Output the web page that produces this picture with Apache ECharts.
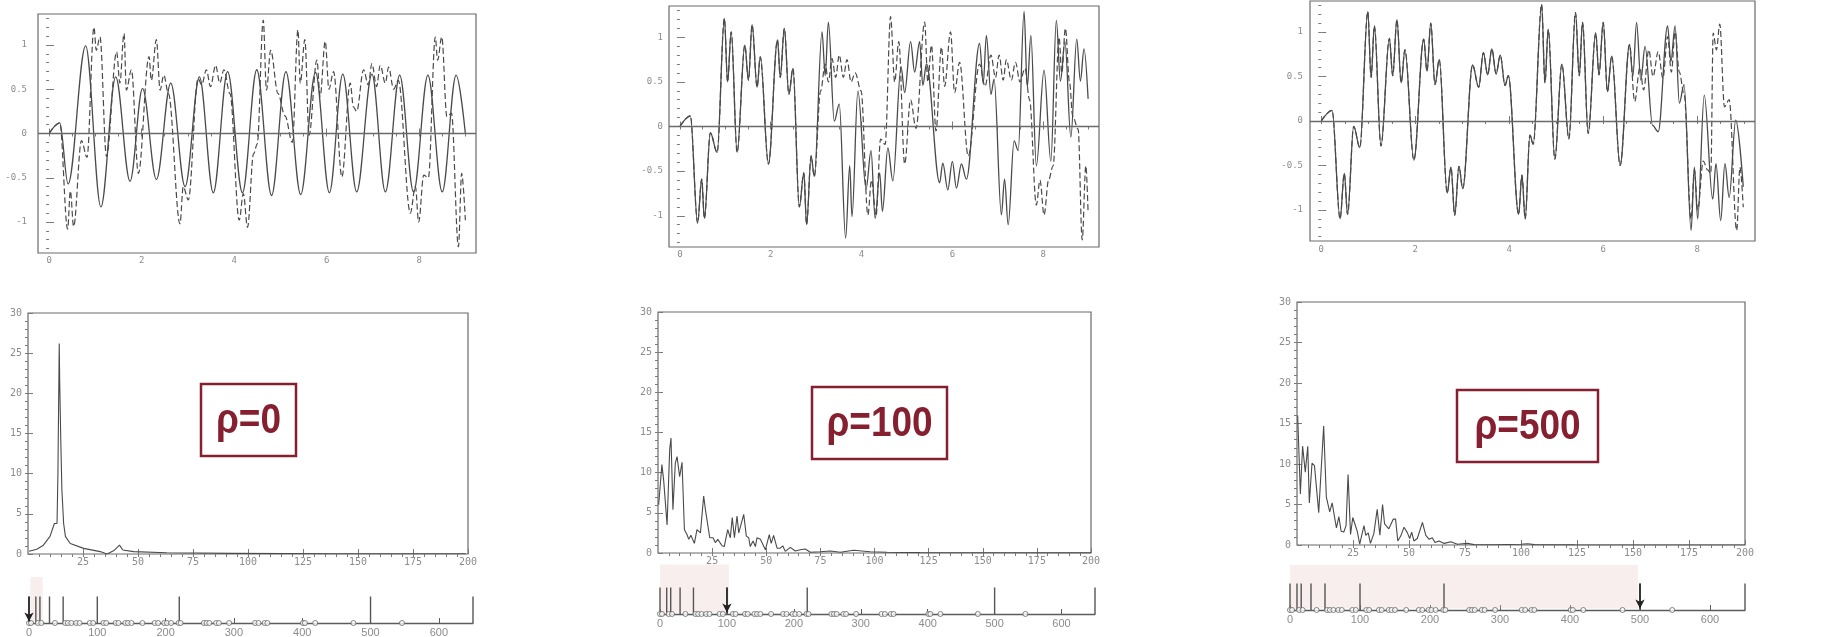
<!DOCTYPE html>
<html>
<head>
<meta charset="utf-8">
<script src="https://cdn.jsdelivr.net/npm/echarts@6/dist/echarts.min.js"></script>
<style>
  html, body { margin: 0; padding: 0; background: #fff; }
  #chart { width: 1835px; height: 637px; }
</style>
</head>
<body>
<div id="chart"></div>
<script>
// ---- data ----
const rhoValues = [0, 100, 500];

// tick labels
const tTicks = [0, 2, 4, 6, 8];
const ampTicks = [-1, -0.5, 0, 0.5, 1];
const freqTicks = [25, 50, 75, 100, 125, 150, 175, 200];
const powerTicks = [0, 5, 10, 15, 20, 25, 30];
const stripTicks = [0, 100, 200, 300, 400, 500, 600];

// time signals [t, x]; solid = model, dashed = reference
const solid0 = [[0,0],[0.23,0.12],[0.41,-0.57],[0.79,0.99],[1.12,-0.83],[1.44,0.64],[1.75,-0.54],[2.02,0.51],[2.32,-0.52],[2.63,0.57],[2.94,-0.6],[3.25,0.64],[3.55,-0.67],[3.86,0.7],[4.18,-0.67],[4.49,0.72],[4.81,-0.7],[5.12,0.7],[5.44,-0.69],[5.76,0.69],[6.06,-0.67],[6.35,0.67],[6.65,-0.66],[6.98,0.67],[7.27,-0.66],[7.58,0.66],[7.88,-0.66],[8.19,0.66],[8.5,-0.66],[8.8,0.66],[9.0,0]];
const dashed0 = [[0,0],[0.23,0.12],[0.4,-1.08],[0.46,-0.65],[0.53,-1.05],[0.7,-0.08],[0.82,-0.27],[0.97,1.2],[1.02,0.94],[1.1,1.09],[1.24,-0.26],[1.46,0.92],[1.53,0.57],[1.62,1.13],[1.67,0.49],[1.78,0.72],[1.93,-0.45],[2.16,0.87],[2.21,0.6],[2.32,1.06],[2.4,0.49],[2.48,0.66],[2.58,0.45],[2.83,-1.02],[2.9,-0.6],[3.01,-0.75],[3.22,0.62],[3.3,0.55],[3.4,0.72],[3.49,0.53],[3.6,0.77],[3.69,0.57],[3.78,0.72],[3.91,0.45],[4.11,-0.98],[4.2,-0.68],[4.29,-1.06],[4.42,-0.23],[4.5,-0.12],[4.63,1.28],[4.7,0.49],[4.79,0.94],[4.95,0.45],[5.1,0.2],[5.26,-0.1],[5.38,1.17],[5.43,0.57],[5.53,1.06],[5.62,-0.02],[5.79,0.83],[5.86,0.42],[5.97,1.04],[6.05,0.5],[6.15,0.7],[6.33,-0.49],[6.51,0.57],[6.58,0.3],[6.65,0.25],[6.8,0.72],[6.9,0.55],[6.98,0.79],[7.08,0.53],[7.16,0.77],[7.27,0.57],[7.34,0.75],[7.45,0.5],[7.55,0.6],[7.81,-0.9],[7.92,-0.6],[7.99,-1.0],[8.1,-0.47],[8.2,-0.5],[8.35,1.09],[8.4,0.83],[8.49,1.09],[8.6,0.19],[8.7,0.23],[8.85,-1.28],[8.92,-0.45],[9.0,-0.98]];

const solid100 = [[0,0],[0.23,0.12],[0.39,-1.08],[0.48,-0.59],[0.54,-1.03],[0.67,-0.07],[0.82,-0.29],[0.98,1.21],[1.05,0.5],[1.13,1.06],[1.26,-0.29],[1.43,0.91],[1.51,0.52],[1.59,1.14],[1.7,0.44],[1.77,0.78],[1.95,-0.42],[2.15,0.97],[2.21,0.55],[2.3,1.1],[2.4,0.36],[2.49,0.65],[2.63,-0.9],[2.73,-0.52],[2.79,-1.1],[2.89,-0.33],[2.96,-0.56],[3.13,1.06],[3.2,0.57],[3.27,1.17],[3.4,0.06],[3.51,0.25],[3.65,-1.25],[3.74,-0.44],[3.79,-1.01],[3.92,0.4],[4.1,-0.7],[4.21,-0.27],[4.3,-1.03],[4.4,-0.52],[4.46,-0.95],[4.58,-0.24],[4.69,-0.61],[4.87,0.67],[4.95,0.38],[5.08,0.95],[5.17,0.61],[5.28,0.95],[5.35,0.46],[5.43,0.7],[5.72,-0.63],[5.79,-0.41],[5.9,-0.71],[6.0,-0.39],[6.09,-0.69],[6.2,-0.42],[6.31,-0.59],[6.6,0.93],[6.68,0.48],[6.75,1.02],[6.85,0.36],[6.92,0.53],[7.08,-0.99],[7.15,-0.59],[7.23,-1.1],[7.36,-0.16],[7.45,-0.27],[7.58,1.29],[7.65,0.44],[7.73,1.02],[7.85,-0.44],[8.02,0.63],[8.17,-0.39],[8.29,1.19],[8.38,0.51],[8.48,0.95],[8.61,-0.12],[8.74,0.98],[8.82,0.51],[8.9,0.87],[8.99,0.31]];
// dashed follows the solid curve until t≈3, then its own path
const dashed100Tail = [[3.1,0.4],[3.2,0.7],[3.27,0.5],[3.35,0.76],[3.43,0.55],[3.51,0.8],[3.6,0.55],[3.68,0.75],[3.77,0.5],[3.86,0.6],[3.99,0.4],[4.14,-0.99],[4.22,-0.6],[4.32,-1.0],[4.42,-0.14],[4.52,-0.2],[4.64,1.23],[4.73,0.5],[4.82,0.95],[4.95,-0.42],[5.08,0.3],[5.2,-0.02],[5.39,1.17],[5.46,0.5],[5.54,0.91],[5.64,-0.05],[5.76,0.89],[5.83,0.45],[5.96,1.06],[6.05,0.38],[6.16,0.72],[6.35,-0.33],[6.6,0.7],[6.72,0.45],[6.85,0.8],[6.95,0.55],[7.03,0.8],[7.12,0.52],[7.19,0.75],[7.3,0.52],[7.39,0.72],[7.49,0.5],[7.6,0.65],[7.7,0.3],[7.85,-0.88],[7.93,-0.6],[8.02,-0.99],[8.12,-0.6],[8.22,-0.44],[8.35,1.0],[8.41,0.6],[8.49,1.1],[8.58,0.5],[8.65,0.12],[8.77,-0.03],[8.86,-1.27],[8.94,-0.44],[8.99,-0.97]];

const solid500 = [[0,0],[0.23,0.12],[0.4,-1.1],[0.49,-0.59],[0.56,-1.05],[0.69,-0.06],[0.82,-0.3],[0.99,1.23],[1.06,0.49],[1.13,1.07],[1.27,-0.28],[1.45,0.93],[1.52,0.51],[1.61,1.14],[1.7,0.43],[1.78,0.8],[1.97,-0.44],[2.18,0.92],[2.25,0.56],[2.33,1.1],[2.42,0.41],[2.51,0.69],[2.68,-0.81],[2.76,-0.52],[2.84,-1.06],[2.93,-0.51],[3.01,-0.76],[3.22,0.63],[3.35,0.38],[3.45,0.77],[3.54,0.52],[3.63,0.81],[3.72,0.53],[3.81,0.74],[3.91,0.4],[3.98,0.51],[4.2,-1.05],[4.27,-0.61],[4.34,-1.1],[4.44,-0.16],[4.51,-0.26],[4.69,1.31],[4.76,0.43],[4.83,1.03],[4.97,-0.43],[5.12,0.64],[5.27,-0.2],[5.41,1.22],[5.49,0.51],[5.56,1.11],[5.68,-0.14],[5.84,0.99],[5.91,0.52],[6.0,1.11],[6.09,0.33],[6.18,0.73],[6.36,-0.5],[6.56,0.86],[6.63,0.5],[6.71,1.11],[6.8,0.46],[6.89,0.84],[7.05,-0.05],[7.17,-0.12],[7.37,1.07],[7.44,0.67],[7.53,1.07],[7.62,0.2],[7.72,0.41],[7.87,-1.23],[7.94,-0.52],[8.01,-1.1],[8.15,0.29],[8.33,-0.88],[8.4,-0.48],[8.5,-1.12],[8.59,-0.48],[8.68,-0.86],[8.82,0.01],[8.98,-0.74]];
const dashed500Tail = [[6.67,0.22],[6.78,0.6],[6.86,0.35],[6.97,0.8],[7.06,0.5],[7.17,0.78],[7.27,0.48],[7.37,0.95],[7.45,0.55],[7.53,1.0],[7.62,0.55],[7.72,0.3],[7.87,-1.1],[7.94,-0.55],[8.01,-1.0],[8.13,-0.45],[8.22,-0.55],[8.29,-0.59],[8.34,0.99],[8.41,0.8],[8.48,1.09],[8.58,0.16],[8.68,0.24],[8.84,-1.23],[8.91,-0.52],[8.98,-0.97]];

// spectra [frequency, power]
const spec0 = [[0.5,0.35],[4,0.6],[7,1.1],[10,2.2],[12,3.8],[13.2,3.8],[13.6,10],[14.2,26.2],[14.4,21.6],[14.9,14.2],[15.4,8],[16.2,3.8],[17,2.2],[19.2,1.3],[25.3,0.7],[32.8,0.3],[35.9,0],[38.9,0.4],[41.6,1.1],[43.1,0.5],[48,0.3],[63,0.15],[93,0.08],[139,0.04],[199,0.04]];
const spec100 = [[0.3,6.0],[1.1,5.8],[1.8,11.0],[2.6,9.1],[4.2,3.5],[5.4,12.9],[6,14.3],[6.9,5.4],[8,11.2],[8.8,12.0],[10,9.5],[11.1,11.3],[12.2,2.9],[13.4,2.3],[14.2,1.7],[15.2,2.2],[16.8,1.2],[18,2.9],[19.6,2.5],[21.1,7.1],[21.9,5.4],[23.9,1.9],[25.4,1.9],[26.5,1.3],[27.6,1.7],[29.6,0.9],[30.6,0.8],[32.2,2.9],[33.4,1.9],[34.3,4.4],[35.3,1.9],[36.5,4.6],[37.3,2.5],[39.6,4.8],[40.8,2.1],[41.9,1.9],[42.6,0.8],[43.9,1.5],[45,0.8],[45.7,1.9],[47.3,1.7],[49.6,0.4],[51.4,2.3],[52.3,1.2],[53.4,2.2],[55,0.6],[56.5,0.6],[57.6,0.9],[58.8,0.2],[61.1,0.7],[63.4,0.25],[65.7,0.4],[68,0.5],[70.4,0.1],[75,0.15],[79.6,0.25],[84.2,0.1],[90.4,0.35],[98,0.15],[105.8,0.1],[121,0.05],[136.6,0.04],[200,0.02]];
const spec500 = [[0.3,16],[0.9,15.8],[1.5,6.3],[2.5,12.2],[3.7,9],[4.8,12.2],[5.5,5.2],[6.7,10.1],[7.8,9.8],[9.7,4],[11.9,14.7],[13.1,5.9],[14.6,4.1],[15.7,5.2],[17.6,2.1],[18.7,3.5],[19.7,1.7],[20.9,1.6],[21.9,2.4],[22.8,8.7],[23.9,1.3],[24.9,3.4],[26.9,1.7],[28,0.1],[29.9,2.4],[30.7,1.2],[31.8,1.5],[32.8,0.2],[34.3,1.4],[35.8,4.4],[37,1.2],[38.2,5.0],[39.1,2.6],[41,2.0],[43,3.2],[44,3.2],[45,0.5],[46.3,1.1],[47.8,2.2],[49.3,1.5],[50.3,0.8],[51.2,1.6],[52.2,0.5],[53.7,0.8],[56,2.8],[57.5,1.2],[59,0.7],[60.4,0.9],[61.6,0.3],[63.4,0.5],[65.7,0.2],[68.7,0.4],[71.6,0.1],[76.1,0.2],[79,0.05],[88,0.03],[100,0.1],[103,0.15],[106,0.05],[124,0.02],[200,0]];

// strip: long bars and small circles along 0..650, shaded range per panel
const barPositions = [0, 10, 16, 30, 50, 100, 220, 500, 650];
const circlePositions = [0, 3, 13, 18, 38, 53, 57, 62, 69, 74, 89, 94, 109, 113, 127, 131, 141, 145, 150, 166, 184, 189, 198, 202, 208, 219, 222, 256, 260, 264, 274, 278, 293, 331, 336, 345, 349, 401, 404, 419, 475, 546];
const shadeRanges = [[2, 20], [0, 103], [0, 497]];

// ---- layout / style ----
const AX = '#7a7a7a';
const LBL = '#8c8c8c';
const LINE = '#4a4a4a';
const MONO = 'DejaVu Sans Mono';

const topBoxes = [
  { left: 38, top: 14, width: 438, height: 239, ylm: 11, xlm: 3 },
  { left: 669, top: 6, width: 430, height: 241, ylm: 6, xlm: 3 },
  { left: 1310, top: 1, width: 445, height: 240, ylm: 7, xlm: 4 },
];
const midBoxes = [
  { left: 28, top: 313, width: 440, height: 241 },
  { left: 658, top: 312, width: 433, height: 241 },
  { left: 1297, top: 302, width: 448, height: 243 },
];
const stripBoxes = [
  { left: 29, top: 573, width: 444, height: 50, shadeTop: 0.92 },
  { left: 660, top: 564, width: 435, height: 50, shadeTop: 0.99 },
  { left: 1290, top: 560, width: 455, height: 50, shadeTop: 0.9 },
];
const rhoBoxes = [
  { x: 201, y: 384, w: 95, h: 72 },
  { x: 812, y: 387, w: 135, h: 72 },
  { x: 1457, y: 390, w: 141, h: 72 },
];

const grids = [], xAxes = [], yAxes = [], series = [], graphics = [];

function steps(a, b, s) {
  const out = [];
  for (let v = a; v <= b + 1e-9; v += s) out.push(+v.toFixed(4));
  return out;
}

// boxed plot: labelled bottom/left axes, mirrored minor ticks on top/right
function addBox(box, xr, yr, xTicks, yTicks, xMinor, yMinor, fontSize, xlm, ylm) {
  const gi = grids.length;
  grids.push({
    left: box.left, top: box.top, width: box.width, height: box.height,
    show: true, borderColor: '#6a6a6a', borderWidth: 1.2, outerBoundsMode: 'none',
  });
  const tick = (vals, len) => ({ show: true, inside: true, length: len, customValues: vals, lineStyle: { color: AX, width: 1 } });
  const lab = (vals, margin) => ({ customValues: vals, margin, fontFamily: MONO, fontSize, color: LBL });
  const base = { gridIndex: gi, type: 'value', axisLine: { show: false }, splitLine: { show: false } };
  const xi = xAxes.length, yi = yAxes.length;
  xAxes.push({ ...base, min: xr[0], max: xr[1], position: 'bottom', axisTick: tick(xTicks, 5), axisLabel: lab(xTicks, xlm) });
  xAxes.push({ ...base, min: xr[0], max: xr[1], position: 'top', axisTick: tick(xMinor, 3), axisLabel: { show: false } });
  yAxes.push({ ...base, min: yr[0], max: yr[1], position: 'left', axisTick: tick(yTicks, 5), axisLabel: lab(yTicks, ylm) });
  yAxes.push({ ...base, min: yr[0], max: yr[1], position: 'right', axisTick: tick(yMinor, 3), axisLabel: { show: false } });
  return { xi, yi };
}

const signals = [
  [solid0, dashed0],
  [solid100, solid100.filter(p => p[0] < 3.0).concat(dashed100Tail)],
  [solid500, solid500.filter(p => p[0] < 6.6).concat(dashed500Tail)],
];
const spectra = [spec0, spec100, spec500];

rhoValues.forEach((rho, i) => {
  // time signal
  const tb = topBoxes[i];
  const a = addBox(tb, [-0.24, 9.23], [-1.35, 1.35], tTicks, ampTicks,
    steps(0, 9, 0.5), steps(-1.3, 1.3, 0.1), 9, tb.xlm, tb.ylm);
  series.push({
    type: 'line', xAxisIndex: a.xi, yAxisIndex: a.yi, data: signals[i][1],
    smooth: 0.35, smoothMonotone: 'x', showSymbol: false, z: 2,
    lineStyle: { color: LINE, width: 1.2, type: [6, 3] },
  });
  series.push({
    type: 'line', xAxisIndex: a.xi, yAxisIndex: a.yi, data: signals[i][0],
    smooth: 0.35, smoothMonotone: 'x', showSymbol: false, z: 3,
    lineStyle: { color: LINE, width: 1.3 },
    markLine: {
      silent: true, symbol: ['none', 'none'], label: { show: false },
      lineStyle: { color: '#6a6a6a', width: 1.3, type: 'solid' },
      data: [{ yAxis: 0 }],
    },
  });

  // spectrum
  const mb = midBoxes[i];
  const b = addBox(mb, [0, 200], [0, 30], freqTicks, powerTicks,
    steps(5, 195, 5), steps(1, 29, 1), 10, 3, 6);
  series.push({
    type: 'line', xAxisIndex: b.xi, yAxisIndex: b.yi, data: spectra[i],
    showSymbol: false, lineStyle: { color: LINE, width: 1.1 },
  });

  // strip with bars, circles, shaded range and arrow at rho
  const sb = stripBoxes[i];
  const gi = grids.length;
  grids.push({ left: sb.left, top: sb.top, width: sb.width, height: sb.height, outerBoundsMode: 'none' });
  const xi = xAxes.length, yi = yAxes.length;
  xAxes.push({
    gridIndex: gi, type: 'value', min: 0, max: 650,
    axisLine: { show: true, lineStyle: { color: '#5c5c5c', width: 1.3 } },
    axisTick: { show: true, inside: true, length: 5, customValues: stripTicks, lineStyle: { color: '#5c5c5c' } },
    axisLabel: { customValues: stripTicks, margin: 4, fontFamily: 'Liberation Sans', fontSize: 11, color: LBL },
    splitLine: { show: false },
  });
  yAxes.push({ gridIndex: gi, type: 'value', min: 0, max: 1, show: false });
  const sh = shadeRanges[i];
  series.push({
    type: 'bar', xAxisIndex: xi, yAxisIndex: yi, barWidth: 1.4,
    data: barPositions.map(x => [x, 0.53]),
    itemStyle: { color: '#555' },
    markArea: {
      silent: true,
      itemStyle: { color: 'rgba(235,200,200,0.3)' },
      data: [[{ coord: [sh[0], 0.03] }, { coord: [sh[1], sb.shadeTop] }]],
    },
    markLine: {
      silent: true, symbol: ['none', 'arrow'], symbolSize: [7, 9], label: { show: false },
      lineStyle: { color: '#222', width: 1.6, type: 'solid' },
      data: [[{ coord: [rho, 0.53] }, { coord: [rho, 0.03] }]],
    },
  });
  series.push({
    type: 'scatter', xAxisIndex: xi, yAxisIndex: yi,
    data: circlePositions.map(x => [x, 0]),
    symbol: 'circle', symbolSize: 5, z: 4,
    itemStyle: { color: '#fff', borderColor: '#666', borderWidth: 1 },
  });

  // rho label box (bold, slightly condensed text)
  const rb = rhoBoxes[i];
  const cx = rb.x + rb.w / 2, cy = rb.y + rb.h / 2 + 1;
  graphics.push({
    type: 'rect', shape: { x: rb.x, y: rb.y, width: rb.w, height: rb.h },
    style: { fill: '#fff', stroke: '#861f30', lineWidth: 2.5 }, z: 100,
  });
  graphics.push({
    type: 'text', z: 101, x: cx, y: cy, scaleX: 0.86,
    style: {
      x: 0, y: 0, text: 'ρ=' + rho,
      align: 'center', verticalAlign: 'middle',
      font: 'bold 43px "Liberation Sans", Arial, sans-serif',
      fill: '#861f30',
    },
  });
});

const chart = echarts.init(document.getElementById('chart'));
chart.setOption({
  animation: false,
  backgroundColor: '#fff',
  grid: grids,
  xAxis: xAxes,
  yAxis: yAxes,
  series: series,
  graphic: graphics,
});
</script>
</body>
</html>
